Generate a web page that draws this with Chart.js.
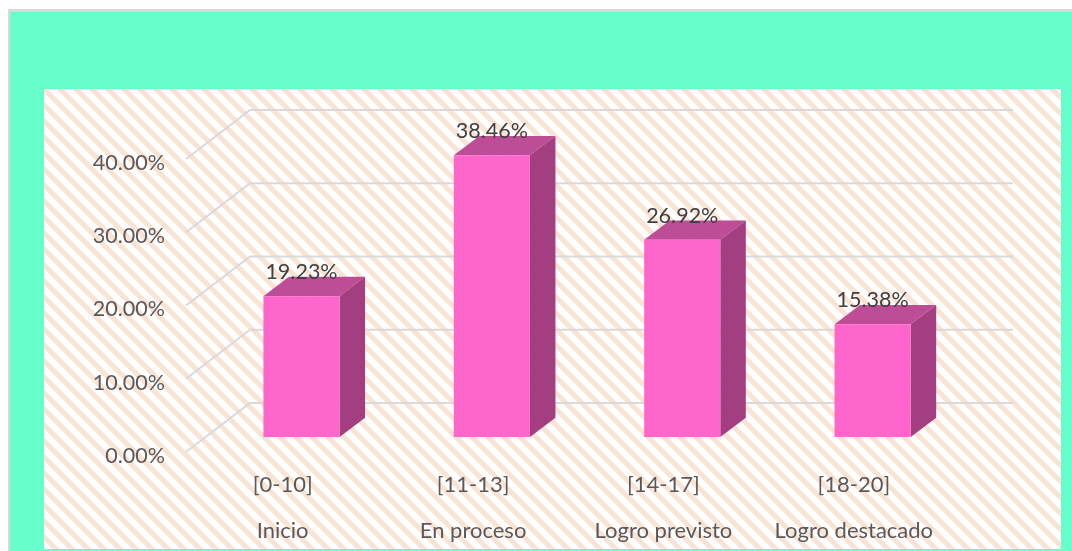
<!DOCTYPE html>
<html><head><meta charset="utf-8">
<style>html,body{margin:0;padding:0;background:#fff;overflow:hidden}canvas{display:block}</style>
<script src="https://cdn.jsdelivr.net/npm/chart.js@4"></script>
</head><body>
<div style="width:1072px;height:551px"><canvas id="c" width="1072" height="551"></canvas></div>
<script>
const rangeLabels = ['[0-10]','[11-13]','[14-17]','[18-20]'];
const levelLabels = ['Inicio','En proceso','Logro previsto','Logro destacado'];
const percentages = [19.23,38.46,26.92,15.38];
const axisTicks = [0,10,20,30,40];

const FONT = 'Lato, Carlito, sans-serif';
function hatch(ctx){
  const p = 16, c = document.createElement('canvas');
  c.width = p; c.height = p;
  const g = c.getContext('2d');
  g.fillStyle = '#fff'; g.fillRect(0,0,p,p);
  g.fillStyle = '#FBE3D3';
  for (let y=0;y<p;y++) for (let x=0;x<p;x++){
    if (((x - y + 2*p) % p) < 7) g.fillRect(x,y,1,1);
  }
  return ctx.createPattern(c,'repeat');
}
const scene = {
  id:'scene',
  beforeDraw(chart){
    const ctx = chart.ctx;
    ctx.save();
    ctx.fillStyle='#fff'; ctx.fillRect(0,0,1072,551);
    ctx.fillStyle='#D9D9D9'; ctx.fillRect(8,9,1064,542);
    ctx.fillStyle='#66FFCC'; ctx.fillRect(10,12,1062,539);
    ctx.fillStyle=hatch(ctx); ctx.fillRect(44,89,1017,460);
    ctx.restore();
  },
  beforeDatasetsDraw(chart){
    const ctx = chart.ctx, y = chart.scales.y, a = chart.chartArea;
    ctx.save();
    ctx.strokeStyle='#D9D9D9'; ctx.lineWidth=2;
    ctx.beginPath();
    axisTicks.forEach(v=>{
      const py = y.getPixelForValue(v);
      ctx.moveTo(a.left,py);
      ctx.lineTo(a.left+64,py-49);
      ctx.lineTo(a.right+65.5,py-49);
    });
    ctx.stroke();
    ctx.restore();
  },
  beforeDatasetDraw(chart){
    const ctx = chart.ctx, DX=20.3, DY=-15, dx=25.5, dy=-19.3;
    const meta = chart.getDatasetMeta(0);
    ctx.save();
    meta.data.forEach(b=>{
      const l=b.x-b.width/2+DX, r=b.x+b.width/2+DX, t=b.y+DY, bt=b.base+DY;
      ctx.fillStyle='#BE4D98';
      ctx.beginPath();ctx.moveTo(l,t);ctx.lineTo(l+dx,t+dy);ctx.lineTo(r+dx,t+dy);ctx.lineTo(r,t);ctx.closePath();ctx.fill();
      ctx.fillStyle='#A33F80';
      ctx.beginPath();ctx.moveTo(r,t);ctx.lineTo(r+dx,t+dy);ctx.lineTo(r+dx,bt+dy);ctx.lineTo(r,bt);ctx.closePath();ctx.fill();
    });
    ctx.restore();
    ctx.save();
    ctx.translate(DX,DY);
  },
  afterDatasetDraw(chart){
    const ctx = chart.ctx;
    ctx.restore();
    const meta = chart.getDatasetMeta(0);
    ctx.save();
    ctx.font='21.5px '+FONT;
    ctx.fillStyle='#404040';
    ctx.textAlign='center';ctx.textBaseline='middle';
    meta.data.forEach((b,i)=>{
      ctx.fillText(percentages[i].toFixed(2)+'%', b.x+20.3, b.y-39);
    });
    ctx.restore();
  }
};
new Chart(document.getElementById('c'),{
  type:'bar',
  data:{
    labels:rangeLabels.map((r,i)=>[r,levelLabels[i]]),
    datasets:[{data:percentages,backgroundColor:'#FF66CC',borderWidth:0,barPercentage:0.4,categoryPercentage:1}]
  },
  plugins:[scene],
  options:{
    responsive:false,animation:false,
    layout:{padding:{top:159,right:124.5,left:0,bottom:0}},
    plugins:{legend:{display:false},title:{display:false},tooltip:{enabled:false}},
    scales:{
      x:{
        grid:{display:false},border:{display:false},
        afterFit(s){s.height=99;},
        ticks:{padding:2,labelOffset:1.5,maxRotation:0,autoSkip:false,color:'#595959',font:{family:FONT,size:22,lineHeight:2.09}}
      },
      y:{
        min:0,max:40,
        grid:{display:false},border:{display:false},
        afterFit(s){s.width=186;},
        afterBuildTicks(s){s.ticks=axisTicks.map(v=>({value:v}));},
        ticks:{padding:13,labelOffset:4,color:'#595959',font:{family:FONT,size:21.5},callback:v=>Number(v).toFixed(2)+'%'}
      }
    }
  }
});
</script>
</body></html>
